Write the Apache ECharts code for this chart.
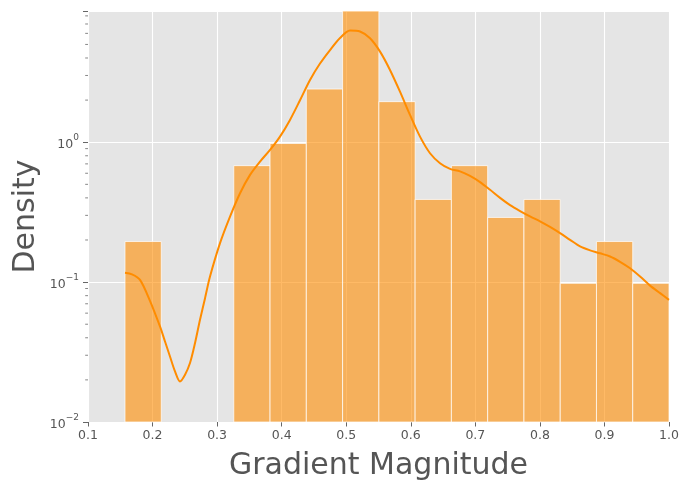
<!DOCTYPE html>
<html>
<head>
<meta charset="utf-8">
<script src="https://cdn.jsdelivr.net/npm/echarts@6/dist/echarts.min.js"></script>
<style>html,body{margin:0;padding:0;background:#fff;}#c{width:690px;height:490px;}</style>
</head>
<body>
<div id="c"></div>
<script>
// Histogram bins (left edges), common width, densities
const binLeft = [0.1573,0.2135,0.2697,0.3258,0.3820,0.4382,0.4944,0.5506,0.6067,0.6629,0.7191,0.7753,0.8315,0.8876,0.9438];
const binWidth = 0.0562;
const binDensity = [0.195,0,0,0.68,0.98,2.40,9.4,1.95,0.39,0.68,0.29,0.39,0.098,0.195,0.098];

// KDE curve (x, density)
const kdeX = [0.1573,0.1682,0.1806,0.1960,0.2115,0.2193,0.2270,0.2348,0.2425,0.2503,0.2580,0.2658,0.2735,0.2813,0.2890,0.3045,0.3200,0.3355,0.3510,0.3665,0.3820,0.3974,0.4129,0.4284,0.4439,0.4594,0.4749,0.4904,0.5059,0.5214,0.5369,0.5524,0.5678,0.5833,0.5988,0.6143,0.6298,0.6453,0.6608,0.6763,0.6918,0.7073,0.7228,0.7383,0.7538,0.7693,0.7847,0.8002,0.8157,0.8312,0.8467,0.8622,0.8777,0.8932,0.9087,0.9242,0.9397,0.9552,0.9707,0.9862,1.0];
const kdeY = [0.1165,0.1137,0.1038,0.0735,0.0482,0.0376,0.0294,0.0230,0.0195,0.0218,0.0264,0.0367,0.0538,0.0768,0.1096,0.190,0.294,0.432,0.584,0.727,0.881,1.096,1.443,1.995,2.786,3.65,4.56,5.56,6.29,6.19,5.53,4.44,3.285,2.298,1.567,1.096,0.834,0.708,0.645,0.619,0.575,0.519,0.457,0.400,0.355,0.322,0.295,0.272,0.248,0.224,0.2005,0.180,0.1687,0.1606,0.1524,0.1396,0.1255,0.1096,0.0944,0.0834,0.0747];

// Axis ranges and ticks
const xMin = 0.1, xMax = 1.0, xStep = 0.1;
const yMin = 0.01, yMax = 8.67;
const minorTickValues = [0.02,0.03,0.04,0.05,0.06,0.07,0.08,0.09,0.2,0.3,0.4,0.5,0.6,0.7,0.8,0.9,2,3,4,5,6,7,8];

const FONT = 'DejaVu Sans';
const TXT = '#555555';

const histData = binLeft.map((l, i) => [l, l + binWidth, binDensity[i]]);
const kdeData = kdeX.map((x, i) => [x, kdeY[i]]);

const chart = echarts.init(document.getElementById('c'), null, {renderer: 'canvas'});
chart.setOption({
  animation: false,
  backgroundColor: '#ffffff',
  textStyle: {fontFamily: FONT},
  grid: {left: 88, right: 21, top: 11, bottom: 68, show: true, backgroundColor: '#e5e5e5', borderWidth: 0,
         containLabel: false, outerBoundsMode: 'none'},
  xAxis: {
    type: 'value', min: xMin, max: xMax, interval: xStep,
    name: 'Gradient Magnitude', nameLocation: 'middle', nameGap: 29, nameMoveOverlap: false,
    nameTextStyle: {fontFamily: FONT, fontSize: 30, color: TXT},
    axisLine: {show: false},
    axisTick: {show: true, length: 4.5, lineStyle: {color: TXT, width: 0.9}},
    axisLabel: {color: TXT, fontFamily: FONT, fontSize: 12.5, margin: 7, formatter: v => v.toFixed(1)},
    splitLine: {show: true, lineStyle: {color: '#ffffff', width: 1.1}}
  },
  yAxis: {
    type: 'log', logBase: 10, min: yMin, max: yMax,
    name: 'Density', nameLocation: 'middle', nameGap: 47, nameMoveOverlap: false,
    nameTextStyle: {fontFamily: FONT, fontSize: 30, color: TXT},
    axisLine: {show: false},
    axisTick: {show: true, length: 5, lineStyle: {color: TXT, width: 0.9}},
    axisLabel: {
      color: TXT, fontFamily: FONT, margin: 9,
      formatter: v => {
        const l = Math.log10(v);
        const e = Math.round(l);
        if (Math.abs(l - e) > 1e-6) return '';
        return '{b|10}{s|' + (e < 0 ? '\u2212' + (-e) : e) + '}';
      },
      rich: {
        b: {fontFamily: FONT, fontSize: 12.5, color: TXT, padding: [5, 0, 0, 0]},
        s: {fontFamily: FONT, fontSize: 9, color: TXT, verticalAlign: 'top', padding: [0, 0, 0, 0]}
      }
    },
    splitLine: {show: true, lineStyle: {color: '#ffffff', width: 1.1}}
  },
  series: [
    {
      type: 'custom', name: 'hist', z: 2,
      data: histData,
      encode: {x: [0, 1], y: 2},
      renderItem: (params, api) => {
        const v = api.value(2);
        if (!(v > 0)) return null;
        const p0 = api.coord([api.value(0), v]);
        const p1 = api.coord([api.value(1), yMin]);
        const cs = params.coordSys;
        const rect = echarts.graphic.clipRectByRect(
          {x: p0[0], y: p0[1], width: p1[0] - p0[0], height: p1[1] - p0[1]},
          {x: cs.x, y: cs.y, width: cs.width, height: cs.height}
        );
        if (!rect) return null;
        return {type: 'rect', shape: rect,
          style: {fill: 'rgba(255,140,0,0.6)', stroke: 'rgba(255,255,255,0.9)', lineWidth: 0.8}};
      }
    },
    {
      type: 'line', name: 'kde', z: 3,
      data: kdeData, smooth: 0.3, showSymbol: false,
      lineStyle: {color: '#ff8c00', width: 2},
      clip: true
    },
    {
      type: 'custom', name: 'minorTicks', z: 4, silent: true, clip: false,
      data: minorTickValues.map(v => [xMin, v]),
      renderItem: (params, api) => {
        const p = api.coord([api.value(0), api.value(1)]);
        return {type: 'line', shape: {x1: p[0] - 2.8, y1: p[1], x2: p[0], y2: p[1]},
          style: {stroke: TXT, lineWidth: 0.7}};
      }
    }
  ]
});
</script>
</body>
</html>
